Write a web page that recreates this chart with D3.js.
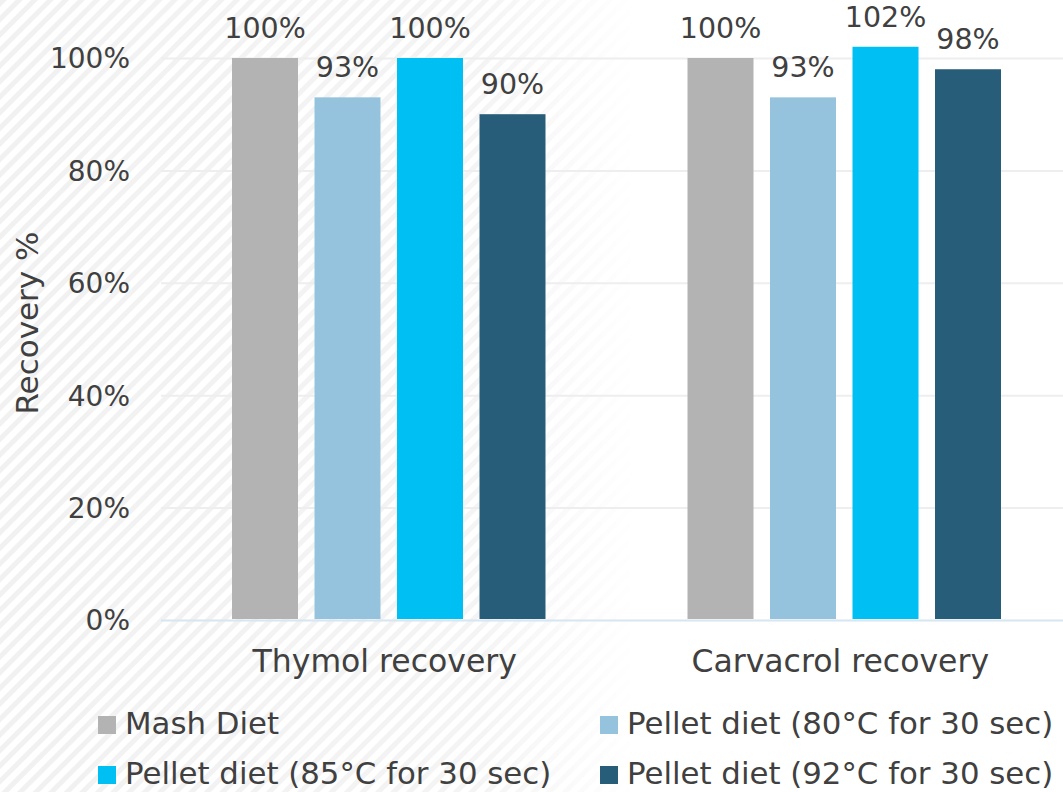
<!DOCTYPE html>
<html>
<head>
<meta charset="utf-8">
<script src="https://cdn.jsdelivr.net/npm/d3@7"></script>
<style>
  html, body { margin: 0; padding: 0; background: #ffffff; }
  svg { display: block; }
  text { font-family: "DejaVu Sans", sans-serif; fill: #404040; }
</style>
</head>
<body>
<svg id="chart" width="1063" height="792"></svg>
<script>
// ---- data ----
const categories = ["Thymol recovery", "Carvacrol recovery"];
const seriesNames = ["Mash Diet", "Pellet diet (80°C for 30 sec)", "Pellet diet (85°C for 30 sec)", "Pellet diet (92°C for 30 sec)"];
const seriesColors = ["#b3b3b3", "#95c3de", "#00bff2", "#285d7a"];
const mashValues = [100, 100];
const pellet80Values = [93, 93];
const pellet85Values = [100, 102];
const pellet92Values = [90, 98];
const yTicks = [0, 20, 40, 60, 80, 100];

const seriesValues = [mashValues, pellet80Values, pellet85Values, pellet92Values];

const W = 1063, H = 792;
const svg = d3.select("#chart");

// ---- faint diagonal stripe background ----
const defs = svg.append("defs");
const pat = defs.append("pattern")
  .attr("id", "stripes").attr("patternUnits", "userSpaceOnUse")
  .attr("width", 11).attr("height", 11)
  .attr("patternTransform", "rotate(45)");
pat.append("rect").attr("width", 5).attr("height", 11).attr("fill", "#f1f1f1");
const grad = defs.append("linearGradient").attr("id", "fade")
  .attr("x1", "0").attr("x2", "1").attr("y1", "0").attr("y2", "0");
grad.append("stop").attr("offset", "0").attr("stop-color", "#fff").attr("stop-opacity", 1);
grad.append("stop").attr("offset", "0.45").attr("stop-color", "#fff").attr("stop-opacity", 0.8);
grad.append("stop").attr("offset", "0.6").attr("stop-color", "#fff").attr("stop-opacity", 0);
const mask = defs.append("mask").attr("id", "fadeMask");
mask.append("rect").attr("width", W).attr("height", H).attr("fill", "url(#fade)");
svg.append("rect").attr("width", W).attr("height", H)
  .attr("fill", "url(#stripes)").attr("mask", "url(#fadeMask)");

// ---- scales ----
const plotLeft = 161, plotTop = 58, plotBottom = 620;
const groupStep = 455.5;
const x0 = d3.scaleBand().domain(categories)
  .range([plotLeft, plotLeft + groupStep * categories.length])
  .paddingInner(0).paddingOuter(0);
const x1 = d3.scaleBand().domain(d3.range(seriesNames.length))
  .range([71, 384.5]).paddingInner(0.2).paddingOuter(0);
const y = d3.scaleLinear().domain([0, 100]).range([plotBottom, plotTop]);

// ---- gridlines ----
const yAxis = d3.axisLeft(y).tickValues(yTicks)
  .tickSize(-(W - plotLeft)).tickFormat(d => d + "%").tickPadding(31);
const gy = svg.append("g").attr("transform", `translate(${plotLeft},0)`).call(yAxis);
gy.select(".domain").remove();
gy.selectAll(".tick line").attr("stroke", d => d === 0 ? "#d6e6f2" : "#eeeeee").attr("stroke-width", 2);
gy.selectAll(".tick text")
  .style("font-size", "28px").attr("fill", "#404040").attr("dy", "0.35em")
  .style("font-family", '"DejaVu Sans", sans-serif');

// ---- bars ----
const groups = svg.append("g").selectAll("g").data(categories).join("g")
  .attr("transform", d => `translate(${x0(d)},0)`);
groups.selectAll("rect")
  .data((c, ci) => seriesValues.map((vals, si) => ({ si, v: vals[ci] })))
  .join("rect")
  .attr("x", d => x1(d.si))
  .attr("width", x1.bandwidth())
  .attr("y", d => y(d.v))
  .attr("height", d => y(0) - y(d.v) - 1)
  .attr("fill", d => seriesColors[d.si]);
groups.selectAll("text.lbl")
  .data((c, ci) => seriesValues.map((vals, si) => ({ si, v: vals[ci] })))
  .join("text").attr("class", "lbl")
  .attr("x", d => x1(d.si) + x1.bandwidth() / 2)
  .attr("y", d => y(d.v) - 20)
  .attr("text-anchor", "middle")
  .style("font-size", "28.5px")
  .text(d => d.v + "%");

// ---- category labels ----
const xAxis = d3.axisBottom(x0).tickSize(0).tickPadding(0);
const gx = svg.append("g").attr("transform", `translate(0,${plotBottom})`).call(xAxis);
gx.select(".domain").remove();
gx.selectAll(".tick text")
  .attr("y", 52).attr("dy", 0).attr("dx", -4)
  .style("font-size", "31.5px").attr("fill", "#404040")
  .style("font-family", '"DejaVu Sans", sans-serif');

// ---- y title ----
svg.append("text")
  .attr("transform", `translate(38,323) rotate(-90)`)
  .attr("text-anchor", "middle")
  .style("font-size", "31px")
  .text("Recovery %");

// ---- legend ----
const legendPos = [[98, 734], [600, 734], [98, 784], [600, 784]];
const lg = svg.append("g").selectAll("g").data(seriesNames).join("g")
  .attr("transform", (d, i) => `translate(${legendPos[i][0]},${legendPos[i][1]})`);
lg.append("rect").attr("x", 0).attr("y", -18).attr("width", 18).attr("height", 18)
  .attr("fill", (d, i) => seriesColors[i]);
lg.append("text").attr("x", 27).attr("y", 0)
  .style("font-size", "30.8px")
  .text(d => d);
</script>
</body>
</html>
